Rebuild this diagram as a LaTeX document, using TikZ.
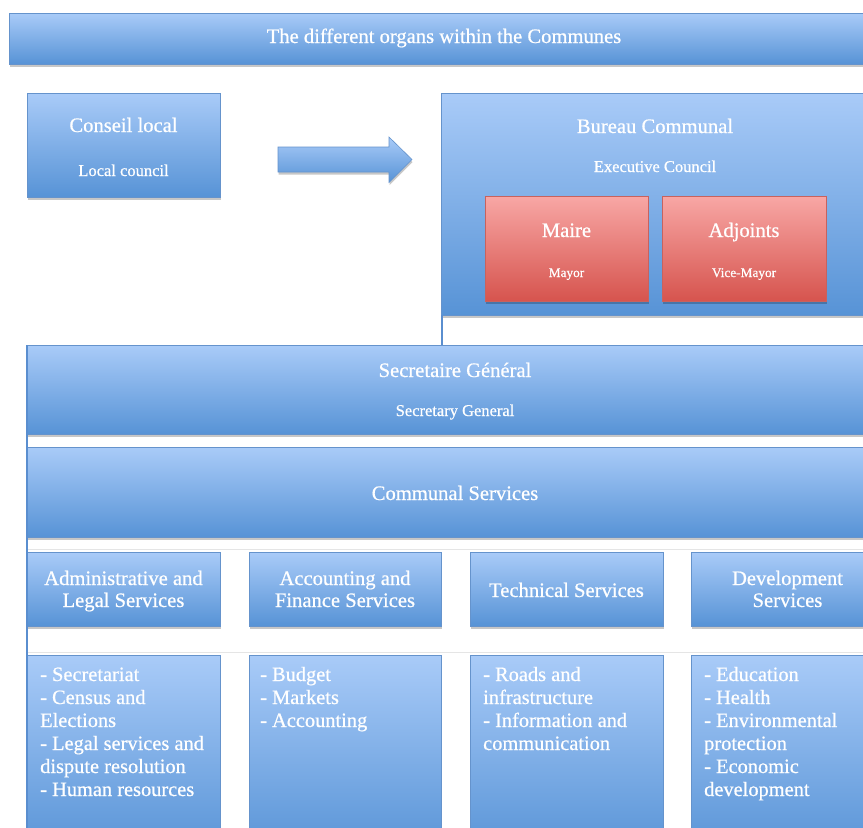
\documentclass[tikz,border=0pt]{standalone}
\usepackage{fontspec}
\setmainfont{Liberation Serif}[FakeBold=0.6]
\usetikzlibrary{shadows}
\definecolor{bluetop}{HTML}{A9CBF8}
\definecolor{bluebot}{HTML}{5793D6}
\definecolor{blueedge}{HTML}{6593CC}
\definecolor{redtop}{HTML}{F8A7A5}
\definecolor{redbot}{HTML}{D6544E}
\definecolor{rededge}{HTML}{C8625E}
\definecolor{connline}{HTML}{5A8ECF}
\tikzset{
  bluebox/.style={draw=blueedge, line width=0.6pt, top color=bluetop, bottom color=bluebot,
    anchor=north west, inner sep=0pt, outer sep=0pt,
    drop shadow={shadow xshift=0.5pt, shadow yshift=-2.5pt, opacity=0.22, fill=black}},
  redbox/.style={draw=rededge, line width=0.6pt, top color=redtop, bottom color=redbot,
    anchor=north west, inner sep=0pt, outer sep=0pt,
    drop shadow={shadow xshift=0.5pt, shadow yshift=-2.5pt, opacity=0.22, fill=black}},
  bigtxt/.style={text=white, anchor=base, inner sep=0pt, font=\fontsize{20.6}{22}\selectfont},
  subtxt/.style={text=white, anchor=base, inner sep=0pt, font=\fontsize{16.5}{20}\selectfont},
  smalltxt/.style={text=white, anchor=base, inner sep=0pt, font=\fontsize{13.3}{16}\selectfont},
  listtxt/.style={text=white, anchor=base west, inner sep=0pt, font=\fontsize{20.4}{23}\selectfont},
  conn/.style={draw=connline, line width=1.8pt},
  faint/.style={draw=black!10, line width=0.8pt}
}
\begin{document}
\begin{tikzpicture}[x=1pt,y=-1pt]
\useasboundingbox (0,0) rectangle (863,828);
\clip (0,0) rectangle (863,828);
\fill[white] (0,0) rectangle (863,828);

% title bar
\node[bluebox, minimum width=870pt, minimum height=51pt] (titlebar) at (9,13) {};
\node[bigtxt] (titletxt) at (444,43) {The different organs within the Communes};

% Conseil local
\node[bluebox, minimum width=193pt, minimum height=104pt] (conseil) at (27,93) {};
\node[bigtxt] (conseilA) at (123.5,132) {Conseil local};
\node[subtxt] (conseilB) at (123.5,176) {Local council};

% block arrow
\path[draw=blueedge, line width=0.6pt, top color=bluetop, bottom color=bluebot,
  drop shadow={shadow xshift=0.5pt, shadow yshift=-2.5pt, opacity=0.22, fill=black}]
  (278,147) -- (389,147) -- (389,137) -- (412,159.5) -- (389,182.5) -- (389,172) -- (278,172) -- cycle;

% Bureau communal
\node[bluebox, minimum width=428pt, minimum height=222pt] (bureau) at (441,93) {};
\node[bigtxt] (bureauA) at (655,133) {Bureau Communal};
\node[subtxt] (bureauB) at (655,172) {Executive Council};

\node[redbox, minimum width=163pt, minimum height=105pt] (maire) at (485,196) {};
\node[bigtxt] (maireA) at (566.5,237) {Maire};
\node[smalltxt] (maireB) at (566.5,277) {Mayor};

\node[redbox, minimum width=164pt, minimum height=105pt] (adjoints) at (662,196) {};
\node[bigtxt] (adjointsA) at (744,237) {Adjoints};
\node[smalltxt] (adjointsB) at (744,277) {Vice-Mayor};

% Secretaire general
\node[bluebox, minimum width=856pt, minimum height=89pt] (sg) at (27,345) {};
\node[bigtxt] (sgA) at (455,377) {Secretaire Général};
\node[subtxt] (sgB) at (455,416) {Secretary General};

\draw[conn] (bureau.south west) ++(1pt,0) coordinate (bw) -- (bw |- sg.north);

% Communal services
\node[bluebox, minimum width=856pt, minimum height=90pt] (cs) at (27,447) {};
\node[bigtxt] (csA) at (455,500) {Communal Services};

\draw[faint] ([yshift=-12pt]cs.south west) -- ([yshift=-12pt]cs.south east);

% service headers
\node[bluebox, minimum width=193pt, minimum height=74pt] (adm) at (27,552) {};
\node[bluebox, minimum width=192pt, minimum height=74pt] (acc) at (249,552) {};
\node[bluebox, minimum width=193pt, minimum height=74pt] (tec) at (470,552) {};
\node[bluebox, minimum width=193pt, minimum height=74pt] (dev) at (691,552) {};
\node[bigtxt] (admT) at (123.5,585) {\parbox[t]{190pt}{\centering Administrative and\\Legal Services}};
\node[bigtxt] (accT) at (345,585) {\parbox[t]{190pt}{\centering Accounting and\\Finance Services}};
\node[bigtxt] (tecT) at (566.5,597) {Technical Services};
\node[bigtxt] (devT) at (787.5,585) {\parbox[t]{190pt}{\centering Development\\Services}};

\draw[faint] ([yshift=-26pt]adm.south west) -- ([yshift=-26pt]adm.south west -| cs.east);

% detail boxes
\node[bluebox, minimum width=193pt, minimum height=200pt] (admD) at (27,655) {};
\node[bluebox, minimum width=192pt, minimum height=200pt] (accD) at (249,655) {};
\node[bluebox, minimum width=193pt, minimum height=200pt] (tecD) at (470,655) {};
\node[bluebox, minimum width=193pt, minimum height=200pt] (devD) at (691,655) {};

\node[listtxt] (admL) at (40,681) {\parbox[t]{300pt}{\raggedright - Secretariat\\- Census and\\Elections\\- Legal services and\\dispute resolution\\- Human resources}};
\node[listtxt] (accL) at (260,681) {\parbox[t]{300pt}{\raggedright - Budget\\- Markets\\- Accounting}};
\node[listtxt] (tecL) at (483,681) {\parbox[t]{300pt}{\raggedright - Roads and\\infrastructure\\- Information and\\communication}};
\node[listtxt] (devL) at (704,681) {\parbox[t]{300pt}{\raggedright - Education\\- Health\\- Environmental\\protection\\- Economic\\development}};

% left frame line
\coordinate (leftbottom) at (27,830);
\draw[conn] (sg.north west) -- (leftbottom);
\end{tikzpicture}
\end{document}
